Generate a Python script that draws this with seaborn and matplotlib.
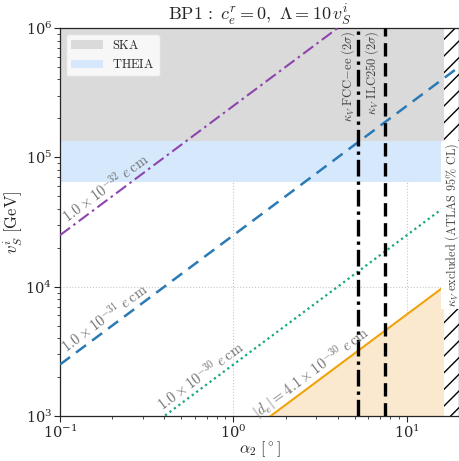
import numpy as np
import pandas as pd
import matplotlib
matplotlib.use("Agg")
import matplotlib.pyplot as plt
from matplotlib.patches import Patch
import seaborn as sns

# ---------------- data ----------------
alpha_ends = [0.1, 20.0]                     # alpha_2 [deg], line endpoints
v_purple = [2.5e4, 5.0e6]                    # |d_e| = 1.0e-32 e cm
v_blue = [2.5e3, 5.0e5]                      # |d_e| = 1.0e-31 e cm
v_green = [2.5e2, 5.0e4]                     # |d_e| = 1.0e-30 e cm
v_orange = [61.0, 1.22e4]                    # |d_e| = 4.1e-30 e cm (bound)
line_labels = [r"$1.0\times10^{-32}\ e\,\mathrm{cm}$",
               r"$1.0\times10^{-31}\ e\,\mathrm{cm}$",
               r"$1.0\times10^{-30}\ e\,\mathrm{cm}$",
               r"$|d_e| = 4.1\times10^{-30}\ e\,\mathrm{cm}$"]
label_alpha = [0.2, 0.198, 0.7, 3.05]
ska_band = [1.34e5, 1.0e6]
theia_band = [6.4e4, 1.34e5]
alpha_fcc = 5.25
alpha_ilc = 7.45
alpha_atlas = 16.3

sns.set_style("ticks")
plt.rcParams["mathtext.fontset"] = "cm"
plt.rcParams["font.family"] = ["DejaVu Serif"]
plt.rcParams["hatch.linewidth"] = 1.0

fig = plt.figure(figsize=(4.6, 4.61), dpi=100)
ax = fig.add_axes([60 / 460, 1 - 416 / 461, (459 - 60) / 460, (416 - 28) / 461])
ax.set_xscale("log")
ax.set_yscale("log")
ax.set_xlim(0.1, 20)
ax.set_ylim(1e3, 1e6)

# bands (stop at the ATLAS-excluded region)
ax.fill_between([alpha_ends[0], alpha_atlas], ska_band[0], ska_band[1],
                color="#dadada", lw=0, zorder=0.8)
ax.fill_between([alpha_ends[0], alpha_atlas], theia_band[0], theia_band[1],
                color="#d6e8fb", lw=0, zorder=0.8)

# excluded fill under orange line
ax.fill_between(alpha_ends, [1.0, 1.0], v_orange, color="#fbe9cf", lw=0, zorder=0.9)

# hatched ATLAS region
ax.axvspan(alpha_atlas, 20, facecolor="white", edgecolor="black", hatch="//",
           lw=0, zorder=1.2)

df = pd.DataFrame({
    "alpha": alpha_ends * 4,
    "v": v_purple + v_blue + v_green + v_orange,
    "series": ["p"] * 2 + ["b"] * 2 + ["g"] * 2 + ["o"] * 2,
})
styles = {"p": ("#8e44ad", (0, (6, 2, 1.2, 2)), 1.5),
          "b": ("#2a7ab6", (0, (5, 3)), 1.8),
          "g": ("#16a683", (0, (1, 1.5)), 1.6),
          "o": ("#f0a30a", "-", 1.5)}
for key, (c, ls, lw) in styles.items():
    sub = df[df["series"] == key]
    sns.lineplot(data=sub, x="alpha", y="v", ax=ax, color=c, linestyle=ls,
                 lw=lw, legend=False)
for ln in ax.lines:
    ln.set_zorder(3)

# vertical lines
ax.axvline(alpha_fcc, color="black", lw=2.4, linestyle=(0, (5, 1.5, 1, 1.5)), zorder=3.2)
ax.axvline(alpha_ilc, color="black", lw=2.4, linestyle=(0, (4, 2)), zorder=3.2)

# grid
ax.grid(True, which="major", color="#c8c8c8", linestyle=":", lw=0.8)
for gl in ax.get_xgridlines() + ax.get_ygridlines():
    gl.set_zorder(1.5)

# line labels
series_v = [v_purple, v_blue, v_green, v_orange]
for lab, a, vv in zip(line_labels, label_alpha, series_v):
    p0 = ax.transData.transform((alpha_ends[0], vv[0]))
    p1 = ax.transData.transform((alpha_ends[1], vv[1]))
    ang = np.degrees(np.arctan2(p1[1] - p0[1], p1[0] - p0[0]))
    k = (np.log(vv[1]) - np.log(vv[0])) / (np.log(alpha_ends[1]) - np.log(alpha_ends[0]))
    yv = vv[0] * (a / alpha_ends[0]) ** k
    off = 8.0  # points
    dx = -np.sin(np.radians(ang)) * off
    dy = np.cos(np.radians(ang)) * off
    ax.annotate(lab, xy=(a, yv), xytext=(dx, dy), textcoords="offset points",
                rotation=ang, rotation_mode="anchor", ha="center", va="center",
                color="#6e6e6e", fontsize=10.5, zorder=3.5)

# vertical labels
ax.text(4.56, 9.5e5, r"$\kappa_V\ \mathrm{FCC{-}ee}\ (2\sigma)$", rotation=90,
        ha="center", va="top", fontsize=9, color="#444444", zorder=3.5)
ax.text(6.35, 9.5e5, r"$\kappa_V\ \mathrm{ILC250}\ (2\sigma)$", rotation=90,
        ha="center", va="top", fontsize=9, color="#444444", zorder=3.5)
ax.text(18.2, 3.0e4, r"$\kappa_V\ \mathrm{excluded\ (ATLAS\ 95\%\ CL)}$", rotation=90,
        ha="center", va="center", fontsize=8.8, color="#444444", zorder=4,
        bbox=dict(facecolor="white", edgecolor="none", pad=1.5))

# legend
handles = [Patch(facecolor="#dadada", edgecolor="none", label=r"$\mathrm{SKA}$"),
           Patch(facecolor="#d6e8fb", edgecolor="none", label=r"$\mathrm{THEIA}$")]
leg = ax.legend(handles=handles, loc="upper left", fontsize=9, frameon=True,
                fancybox=True, framealpha=0.8, edgecolor="#dddddd",
                handlelength=2.5)
leg.set_zorder(5)

ax.set_title(r"$\mathrm{BP1}\,:\;c_e^r = 0,\ \Lambda = 10\,v_S^i$", fontsize=13, pad=3)
ax.set_xlabel(r"$\alpha_2\ [^\circ]$", fontsize=11.5, labelpad=-1)
ax.set_ylabel(r"$v_S^i\ [\mathrm{GeV}]$", fontsize=12, labelpad=0)
ax.tick_params(which="both", direction="out", top=False, right=False, labelsize=10.5, pad=1.5)
ax.tick_params(which="major", length=4, width=0.8)
ax.tick_params(which="minor", length=2.5, width=0.6)
for s in ax.spines.values():
    s.set_linewidth(0.9)

fig.savefig("out.png", dpi=100)
